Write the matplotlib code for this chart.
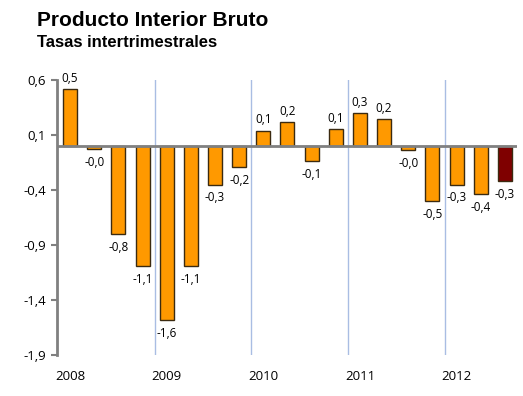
import matplotlib
matplotlib.use("Agg")
import matplotlib.pyplot as plt
import numpy as np

# Datos: tasas intertrimestrales del PIB (2008T1 - 2012T3)
valores = [0.52, -0.03, -0.80, -1.09, -1.58, -1.09, -0.35, -0.19,
           0.14, 0.22, -0.14, 0.15, 0.30, 0.245, -0.04, -0.50,
           -0.35, -0.44, -0.32]
etiquetas = ["0,5", "-0,0", "-0,8", "-1,1", "-1,6", "-1,1", "-0,3", "-0,2",
             "0,1", "0,2", "-0,1", "0,1", "0,3", "0,2", "-0,0", "-0,5",
             "-0,3", "-0,4", "-0,3"]
anios = ["2008", "2009", "2010", "2011", "2012"]
yticks = [0.6, 0.1, -0.4, -0.9, -1.4, -1.9]
ytick_labels = ["0,6", "0,1", "-0,4", "-0,9", "-1,4", "-1,9"]

plt.rcParams["font.family"] = ["Open Sans", "DejaVu Sans"]

fig = plt.figure(figsize=(5.23, 3.96), dpi=100)
ax = fig.add_axes([0.109, 0.1035, 0.8795, 0.6945])

x = np.arange(len(valores))
colores = ["#FF9900"] * (len(valores) - 1) + ["#7F0000"]
ax.bar(x, valores, width=0.58, color=colores, edgecolor="#3b2a10", linewidth=1.0, zorder=3)

# lineas de separacion entre años
for i in range(1, len(anios)):
    ax.axvline(i * 4 - 0.5, color="#a9bde3", linewidth=1.0, zorder=1)

ax.axhline(0, color="#808080", linewidth=2.0, zorder=4)

# etiquetas de datos
for xi, v, lab in zip(x, valores, etiquetas):
    if v >= 0:
        ax.annotate(lab, (xi, v), xytext=(0, 3), textcoords="offset points",
                    ha="center", va="bottom", fontsize=8.5)
    else:
        ax.annotate(lab, (xi, v), xytext=(0, -5), textcoords="offset points",
                    ha="center", va="top", fontsize=8.5)

# años debajo del primer trimestre
for i, a in enumerate(anios):
    ax.text(i * 4, -0.055, a, transform=ax.get_xaxis_transform(),
            ha="center", va="top", fontsize=9.5)

ax.set_xlim(-0.54, 18.5)
ax.set_ylim(-1.9, 0.6)
ax.set_yticks(yticks)
ax.set_yticklabels(ytick_labels, fontsize=9.5)
ax.set_xticks([])
ax.tick_params(axis="y", length=4, width=1.5, color="#808080", pad=4)

for s in ["top", "right", "bottom"]:
    ax.spines[s].set_visible(False)
ax.spines["left"].set_color("#808080")
ax.spines["left"].set_linewidth(2.0)

fig.text(0.071, 0.972, "Producto Interior Bruto", fontsize=15, fontweight="bold",
         ha="left", va="top", family=["Liberation Sans", "DejaVu Sans"])
fig.text(0.071, 0.912, "Tasas intertrimestrales", fontsize=12, fontweight="bold",
         ha="left", va="top", family=["Liberation Sans", "DejaVu Sans"])

fig.savefig("out.png", dpi=100)
